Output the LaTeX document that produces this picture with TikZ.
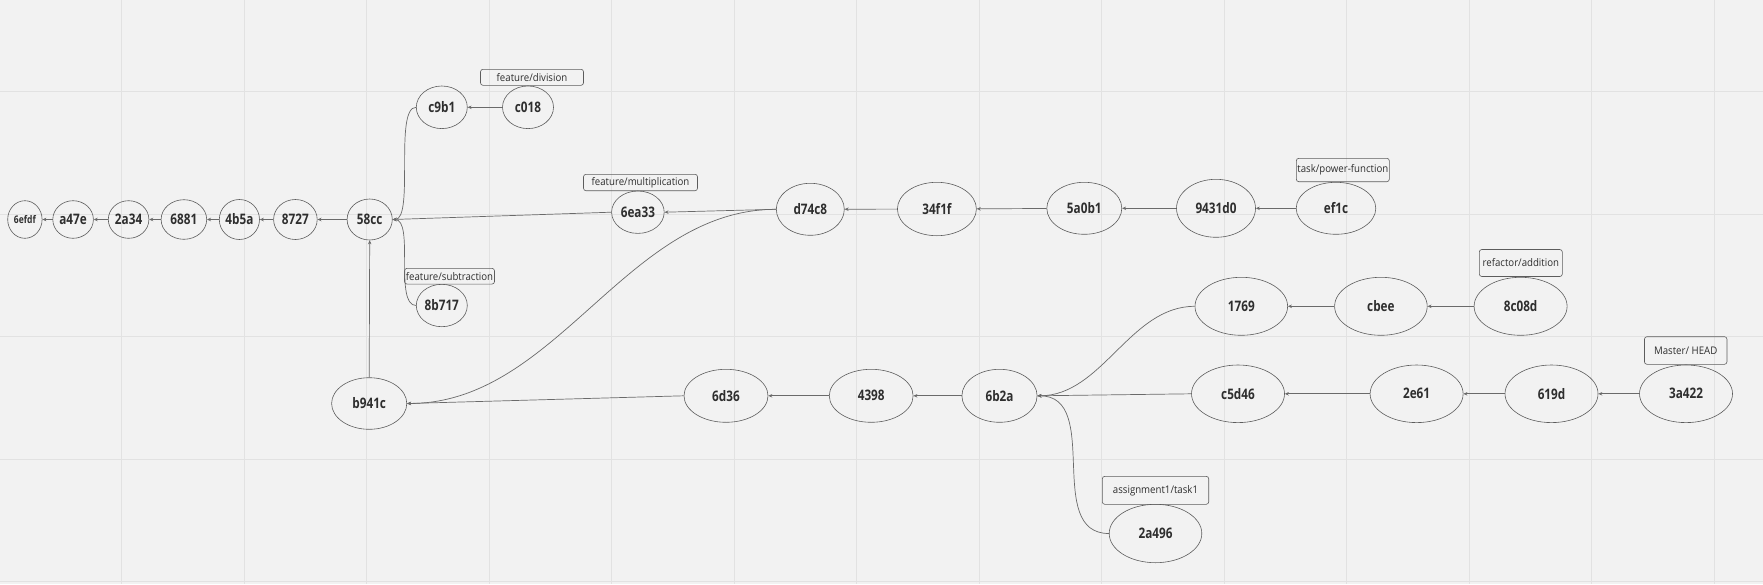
\documentclass[tikz,border=0pt]{standalone}
\usepackage{fontspec}
\setmainfont{Open Sans}
\IfFontExistsTF{Open Sans SemiBold}{%
  \newfontfamily\nodefont{Open Sans SemiBold}[FakeStretch=0.81]%
  \newcommand\nodeweight{}%
}{%
  \newfontfamily\nodefont{Open Sans}[FakeStretch=0.81]%
  \newcommand\nodeweight{\bfseries}%
}
\newfontfamily\labfont{Open Sans}[FakeStretch=0.92]
\usetikzlibrary{shapes.geometric,arrows.meta}
\definecolor{bgcol}{HTML}{F2F2F2}
\definecolor{gridcol}{HTML}{E2E2E2}
\definecolor{edgecol}{HTML}{5C5C5C}
\definecolor{conncol}{HTML}{6A6A6A}
\definecolor{txtcol}{HTML}{2E2E2E}
\tikzset{
  commit/.style 2 args={ellipse, draw=edgecol, line width=0.6pt, minimum width=#1, minimum height=#2,
    inner sep=0pt, text=txtcol, font={\nodefont\nodeweight\fontsize{14.5}{16}\selectfont}},
  smallcommit/.style={font={\nodefont\nodeweight\fontsize{10.5}{12}\selectfont}},
  lab/.style 2 args={draw=edgecol, line width=0.6pt, rounded corners=2.5pt, minimum width=#1, minimum height=#2,
    inner sep=0pt, text=txtcol, font={\labfont\fontsize{10.5}{12}\selectfont}},
  conn/.style={draw=conncol, line width=0.7pt, -{Stealth[length=4pt,width=3.5pt]}},
  gridline/.style={draw=gridcol, line width=0.9pt}
}
\begin{document}
\begin{tikzpicture}[x=1pt,y=-1pt]
\fill[bgcol] (0,0) rectangle (1763,584);
\useasboundingbox (0,0) rectangle (1763,584);
\foreach \i in {0,...,13} \draw[gridline] ({121.7+122.5*\i},0) -- ({121.7+122.5*\i},584);
\foreach \j in {0,...,4} \draw[gridline] (0,{91.7+122.5*\j}) -- (1763,{91.7+122.5*\j});

% left chain
\node[commit={34.4}{37.6},smallcommit] (n6efdf) at (24.9,219.5) {6efdf};
\node[commit={40.6}{37.6}] (na47e) at (73.1,219.5) {a47e};
\node[commit={40.6}{37.6}] (n2a34) at (128.6,219.5) {2a34};
\node[commit={45.6}{39.6}] (n6881) at (183.9,219.5) {6881};
\node[commit={40.2}{40}] (n4b5a) at (239.4,219.5) {4b5a};
\node[commit={43.6}{40}] (n8727) at (295.4,219.5) {8727};
\node[commit={45.2}{41}] (n58cc) at (369.7,219.5) {58cc};
\node[commit={51}{42.6}] (nc9b1) at (441.8,107.3) {c9b1};
\node[commit={51}{42.6}] (nc018) at (528,107.3) {c018};
\node[commit={51}{42.4}] (n8b717) at (441.8,305.5) {8b717};
\node[commit={52.6}{42.4}] (n6ea33) at (637.9,212.2) {6ea33};
\node[commit={68}{52}] (nd74c8) at (810.3,209.3) {d74c8};
\node[commit={79}{53.4}] (n34f1f) at (936.9,209) {34f1f};
\node[commit={75}{52}] (n5a0b1) at (1084.3,208.3) {5a0b1};
\node[commit={79}{58}] (n9431d0) at (1216,208.3) {9431d0};
\node[commit={79.6}{52}] (nef1c) at (1336,208.3) {ef1c};
\node[commit={92.6}{58}] (n1769) at (1241.3,306.3) {1769};
\node[commit={92.6}{58}] (ncbee) at (1380.9,306.3) {cbee};
\node[commit={93}{58}] (n8c08d) at (1520.6,306.3) {8c08d};
\node[commit={93}{57.6}] (nc5d46) at (1238,393.8) {c5d46};
\node[commit={93}{57.6}] (n2e61) at (1416.6,393.8) {2e61};
\node[commit={93}{57.6}] (n619d) at (1551.5,393.8) {619d};
\node[commit={93}{57.6}] (n3a422) at (1686,393.8) {3a422};
\node[commit={75.2}{51.6}] (nb941c) at (369.2,403.5) {b941c};
\node[commit={84}{53}] (n6d36) at (726,395.8) {6d36};
\node[commit={83.8}{53}] (n4398) at (871.2,395.8) {4398};
\node[commit={75.2}{53}] (n6b2a) at (999.5,395.8) {6b2a};
\node[commit={92.6}{58.4}] (n2a496) at (1155.5,533.5) {2a496};

% labels
\node[lab={103}{16}] (ldiv) at (532,77.3) {feature/division};
\node[lab={90}{15.7}] (lsub) at (449.5,276.2) {feature/subtraction};
\node[lab={114}{16.4}] (lmul) at (640.5,182.5) {feature/multiplication};
\node[lab={93}{23.4}] (lpow) at (1342.8,170) {task/power-function};
\node[lab={83}{27}] (ladd) at (1520.8,263) {refactor/addition};
\node[lab={82.5}{27.6}] (lhead) at (1685.7,350.5) {Master/ HEAD};
\node[lab={106.4}{28}] (ltask) at (1155.5,490.3) {assignment1/task1};

% connectors
\draw[conn] (na47e) -- (n6efdf);
\draw[conn] (n2a34) -- (na47e);
\draw[conn] (n6881) -- (n2a34);
\draw[conn] (n4b5a) -- (n6881);
\draw[conn] (n8727) -- (n4b5a);
\draw[conn] (n58cc) -- (n8727);
\draw[conn] (nc018) -- (nc9b1);
\draw[conn] (nc9b1.west) .. controls +(-22,0) and +(22,0) .. (n58cc.east);
\draw[conn] (n8b717.west) .. controls +(-22,0) and +(22,0) .. (n58cc.east);
\draw[conn] (n6ea33.west) -- (n58cc.east);
\draw[conn] (nd74c8.west) -- (n6ea33.east);
\draw[conn] (nd74c8.west) .. controls +(-150,0) and +(150,0) .. (nb941c.east);
\draw[conn] (n34f1f) -- (nd74c8);
\draw[conn] (n5a0b1) -- (n34f1f);
\draw[conn] (n9431d0) -- (n5a0b1);
\draw[conn] (nef1c) -- (n9431d0);
\draw[conn] (ncbee) -- (n1769);
\draw[conn] (n8c08d) -- (ncbee);
\draw[conn] (n1769.west) .. controls +(-65,0) and +(65,0) .. (n6b2a.east);
\draw[conn] (nc5d46.west) -- (n6b2a.east);
\draw[conn] (n2e61) -- (nc5d46);
\draw[conn] (n619d) -- (n2e61);
\draw[conn] (n3a422) -- (n619d);
\draw[conn] (n2a496.west) .. controls +(-65,0) and +(65,0) .. (n6b2a.east);
\draw[conn] (n6b2a) -- (n4398);
\draw[conn] (n4398) -- (n6d36);
\draw[conn] (n6d36.west) -- (nb941c.east);
\draw[conn] (nb941c.north) -- (n58cc.south);
\end{tikzpicture}
\end{document}
